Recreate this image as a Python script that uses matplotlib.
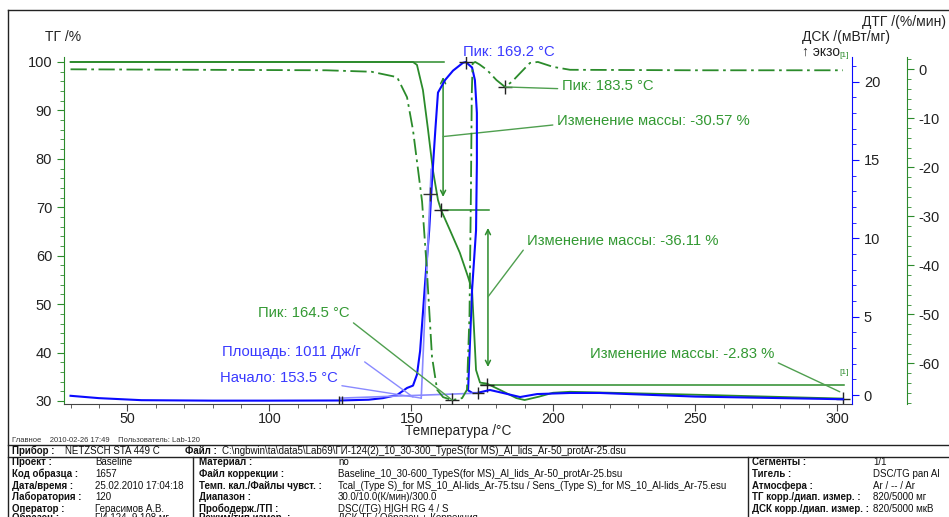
import matplotlib

matplotlib.use("Agg")

import matplotlib.pyplot as plt  # noqa: E402
from matplotlib.lines import Line2D  # noqa: E402
from matplotlib.ticker import MultipleLocator  # noqa: E402
import numpy as np  # noqa: E402

plt.rcParams["font.family"] = ["Liberation Sans", "DejaVu Sans"]
plt.rcParams["axes.unicode_minus"] = False

W, H = 949, 517
GREEN = "#2b8b2b"
GREEN_TXT = "#339933"
BLUE = "#0a0aff"
BLUE_TXT = "#3a3aff"
BLUE_LIGHT = "#8a8aff"

# --- ТГ, % ---
tg_temp = [30, 150.6, 152.0, 154.1, 155.9, 157.6, 159.4, 160.5, 163.6, 167.1, 170.0,
           171.4, 172.1, 172.8, 174.2, 176.6, 181.2, 187.0, 189.9, 195.0, 199.9,
           205.9, 250, 302]
tg_mass = [100, 100, 99.4, 94.2, 86.0, 77.7, 71.5, 69.4, 65.3, 60.6, 55.6,
           52.9, 44.7, 36.4, 33.8, 33.6, 32.3, 30.6, 30.2, 30.9, 31.7,
           31.9, 31.3, 30.5]

# --- ДТГ, %/мин ---
dtg_temp = [30, 120, 136, 145.0, 148.5, 150.6, 152.4, 153.8, 155.5, 156.0, 157.3,
            159.1, 161.2, 164.4, 167.9, 169.6, 170.5, 171.0, 171.3, 171.6, 172.5,
            174.0, 176.6, 180.0, 183.0, 185.5, 188.3, 191.8, 194.6, 199.9, 205.9,
            250, 302]
dtg_rate = [0.0, -0.2, -0.5, -1.6, -5.7, -12.4, -20.6, -27.0, -41.0, -46.0, -58.7,
            -65.4, -66.9, -67.5, -67.1, -65.4, -50.0, -25.0, -5.0, 1.2, 1.5,
            1.0, -0.1, -2.2, -3.6, -2.5, -0.8, 1.3, 1.5, 0.5, -0.1,
            -0.2, -0.2]

# --- ДСК, мВт/мг ---
dsc_temp = [30, 40, 55, 80, 100, 125, 135, 140, 145, 148.5, 150.6, 152.0, 153.1,
            154.2, 155.2, 156.3, 157.3, 158.5, 159.4, 161.9, 164.7, 168.2, 169.2,
            171.4, 172.4, 173.1, 173.1, 172.8, 171.4, 170.7, 170.0, 171.5, 173.1,
            177.7, 182.3, 188.3, 194.3, 205.9, 216.4, 250, 302]
dsc_heat = [-0.05, -0.2, -0.33, -0.36, -0.36, -0.35, -0.3, -0.2, 0.0, 0.45, 0.6,
            1.3, 2.8, 5.5, 8.0, 10.5, 13.7, 17.0, 19.3, 20.1, 20.7, 21.2, 21.25,
            20.9, 20.1, 18.0, 14.8, 10.5, 6.7, 3.5, 0.3, 0.13, 0.13,
            0.32, 0.13, -0.13, 0.06, 0.13, 0.13, -0.1, -0.27]

mass_steps = [-30.57, -36.11, -2.83]
step_temps = [160.5, 176.6, 302.0]
onset_temp = 153.5
area_limits = [125.0, 173.5]
area_base = [-0.2, 0.12]
inflection = (156.6, 12.8)

header = "Главное    2010-02-26 17:49    Пользователь: Lab-120"
device_row = [("Прибор :", True), ("NETZSCH STA 449 C", False), ("Файл :", True),
              ("C:\\ngbwin\\ta\\data5\\Lab69\\ГИ-124(2)_10_30-300_TypeS(for MS)_Al_lids_Ar-50_protAr-25.dsu", False)]
col1_keys = ["Проект :", "Код образца :", "Дата/время :", "Лаборатория :", "Оператор :", "Образец :"]
col1_vals = ["Baseline", "1657", "25.02.2010 17:04:18", "120", "Герасимов А.В.", "ГИ-124, 9.108 мг"]
col2_keys = ["Материал :", "Файл коррекции :", "Темп. кал./Файлы чувст. :", "Диапазон :",
             "Прободерж./ТП :", "Режим/тип измер. :"]
col2_vals = ["no", "Baseline_10_30-600_TypeS(for MS)_Al_lids_Ar-50_protAr-25.bsu",
             "Tcal_(Type S)_for MS_10_Al-lids_Ar-75.tsu / Sens_(Type S)_for MS_10_Al-lids_Ar-75.esu",
             "30.0/10.0(К/мин)/300.0", "DSC(/TG) HIGH RG 4 / S", "ДСК-ТГ / Образец + Коррекция"]
col3_keys = ["Сегменты :", "Тигель :", "Атмосфера :", "ТГ корр./диап. измер. :", "ДСК корр./диап. измер. :"]
col3_vals = ["1/1", "DSC/TG pan Al", "Ar / -- / Ar", "820/5000 мг", "820/5000 мкВ"]


def fx(x):
    return x / W


def fy(y):
    return 1 - y / H


fig = plt.figure(figsize=(W / 100, H / 100), dpi=100)
ax = fig.add_axes([fx(64), fy(404), fx(852) - fx(64), fy(57) - fy(404)])
ax2 = ax.twinx()
ax3 = ax.twinx()

ax.set_xlim(27.7, 305.2)
ax.set_ylim(29.38, 101.03)
ax2.set_ylim(-0.574, 21.57)
ax3.set_ylim(-68.3, 2.51)

for s in ["top", "right"]:
    ax.spines[s].set_visible(False)
ax.spines["left"].set_color(GREEN)
ax.spines["bottom"].set_color("#444")
for s in ["top", "left", "bottom"]:
    ax2.spines[s].set_visible(False)
    ax3.spines[s].set_visible(False)
ax2.spines["right"].set_color(BLUE)
ax3.spines["right"].set_color(GREEN)
ax3.spines["right"].set_position(("outward", 55 * 0.72))

ax.set_xticks(range(50, 301, 50))
ax.xaxis.set_minor_locator(MultipleLocator(10))
ax.set_yticks(range(30, 101, 10))
ax.yaxis.set_minor_locator(MultipleLocator(2))
ax2.set_yticks(range(0, 21, 5))
ax2.yaxis.set_minor_locator(MultipleLocator(1))
ax3.set_yticks(range(-60, 1, 10))
ax3.yaxis.set_minor_locator(MultipleLocator(2))

ax.tick_params(axis="x", which="both", colors="#444", labelcolor="#222", labelsize=10.3, pad=0.5)
ax.tick_params(axis="x", which="major", length=5)
ax.tick_params(axis="x", which="minor", length=3)
for a, c in [(ax, GREEN), (ax2, BLUE), (ax3, GREEN)]:
    a.tick_params(axis="y", which="both", color=c, labelcolor="#222", labelsize=10.5)
    a.tick_params(axis="y", which="major", length=5)
    a.tick_params(axis="y", which="minor", length=3)

# curves
ax.plot(tg_temp, tg_mass, color=GREEN, lw=1.3)
ax2.plot(dsc_temp, dsc_heat, color=BLUE, lw=1.5)
ax3.plot(dtg_temp, dtg_rate, color=GREEN, lw=1.3, ls=(0, (9, 2.5, 1.5, 2.5)))

# mass change steps
levels = [100.0]
for st in mass_steps:
    levels.append(levels[-1] + st)
ax.plot([30, 161.4], [levels[0]] * 2, color=GREEN, lw=1.1)
ax.plot([step_temps[0], 177.3], [levels[1]] * 2, color=GREEN, lw=1.1)
ax.plot([174.5, step_temps[2] + 0.5], [levels[2]] * 2, color=GREEN, lw=1.1)
ax.plot(step_temps, levels[1:], "+", color="#222", ms=10, mew=1)
arrow_kw = dict(arrowstyle="<->", color=GREEN, lw=1.1, shrinkA=0, shrinkB=0, mutation_scale=9)
ax.annotate("", xy=(161.2, levels[1] + 2.7), xytext=(161.2, levels[0] - 3.1), arrowprops=arrow_kw)
ax.annotate("", xy=(177.0, levels[2] + 3.7), xytext=(177.0, levels[1] - 3.7), arrowprops=arrow_kw)


def leader(a, text, xy, xytext, color, lcolor, relpos):
    a.annotate(text, xy=xy, xytext=xytext, color=color, fontsize=10.7, ha="left", va="center",
               arrowprops=dict(arrowstyle="-", color=lcolor, lw=1.0, shrinkA=1, shrinkB=0,
                               relpos=relpos))


leader(ax, "Изменение массы: %.2f %%" % mass_steps[0], (161.2, 84.6), (201.3, 87.8),
       GREEN_TXT, "#4f9f4f", (0, 0.25))
leader(ax, "Изменение массы: %.2f %%" % mass_steps[1], (177.0, 51.5), (190.7, 63.0),
       GREEN_TXT, "#4f9f4f", (0, 0.2))
leader(ax, "Изменение массы: %.2f %%" % mass_steps[2], (300.9, 31.9), (212.9, 39.7),
       GREEN_TXT, "#4f9f4f", (1, 0))

# DSC marks
dsc_t = np.array(dsc_temp)
dsc_h = np.array(dsc_heat)
ipk = int(np.argmax(dsc_h))
ax2.plot([dsc_t[ipk]], [dsc_h[ipk]], "+", color="#222", ms=10, mew=1)
ax2.text(168.2, 21.9, "Пик: %.1f °C" % dsc_t[ipk], color=BLUE_TXT, fontsize=10.7, va="center")
ax2.plot(area_limits, area_base, color=BLUE_LIGHT, lw=1.2)
ax2.plot([onset_temp, inflection[0] + 0.4], [area_base[0], inflection[1] + 1.6],
         color=BLUE_LIGHT, lw=1.2)
ax2.plot([inflection[0]], [inflection[1]], "+", color="#333", ms=10, mew=1)
ax2.plot([area_limits[1]], [area_base[1]], "+", color="#222", ms=9, mew=1)
ax2.plot([area_limits[0] - 0.5, area_limits[0] + 0.5], [-0.35, -0.35], "|", color="#222", ms=6, mew=1)
leader(ax2, "Площадь: 1011 Дж/г", (150.6, -0.13), (83.3, 2.74), BLUE_TXT, BLUE_LIGHT, (1, 0))
leader(ax2, "Начало: %.1f °C" % onset_temp, (onset_temp, area_base[0]), (82.6, 1.08),
       BLUE_TXT, BLUE_LIGHT, (1, 0))

# DTG marks
dtg_t = np.array(dtg_temp)
dtg_r = np.array(dtg_rate)
i1 = int(np.argmin(dtg_r))
late = dtg_t > 175
i2 = int(np.argmin(np.where(late, dtg_r, 0)))
ax3.plot([dtg_t[i1], dtg_t[i2]], [dtg_r[i1], dtg_r[i2]], "+", color="#222", ms=10, mew=1)
leader(ax3, "Пик: 164.5 °C", (dtg_t[i1], dtg_r[i1]), (96.0, -49.7), GREEN_TXT, "#4f9f4f", (1, 0))
leader(ax3, "Пик: 183.5 °C", (dtg_t[i2], dtg_r[i2]), (203.0, -3.4), GREEN_TXT, "#4f9f4f", (0, 0.3))
ax3.text(302.5, 2.0, "[1]", color=GREEN, fontsize=6, ha="center", va="bottom")
ax3.text(302.5, -62.5, "[1]", color=GREEN, fontsize=6, ha="center", va="bottom")

# axis titles
fig.text(fx(45), fy(37), "ТГ /%", fontsize=10, color="#222", va="center")
fig.text(fx(862), fy(22), "ДТГ /(%/мин)", fontsize=10, color="#222", va="center")
fig.text(fx(802), fy(37), "ДСК /(мВт/мг)", fontsize=10, color="#222", va="center")
fig.text(fx(802), fy(52), "↑ экзо", fontsize=10, color="#222", va="center")
fig.text(fx(458), fy(431), "Температура /°C", fontsize=9.8, color="#222", ha="center", va="center")


# frame and info table
def hline(y, x0=8, x1=W):
    fig.add_artist(Line2D([fx(x0), fx(x1)], [fy(y), fy(y)], transform=fig.transFigure,
                          color="#222", lw=1))


def vline(x, y0, y1):
    fig.add_artist(Line2D([fx(x), fx(x)], [fy(y0), fy(y1)], transform=fig.transFigure,
                          color="#222", lw=1))


hline(10)
vline(8, 10, H)
hline(445)
hline(457)
vline(193, 457, H)
vline(748, 457, H)

fig.text(fx(12), fy(440), header, fontsize=5.5, color="#333", va="center")
for (txt, bold), x in zip(device_row, [12, 65, 185, 222]):
    fig.text(fx(x), fy(451), txt, fontsize=7, color="#111", va="center",
             fontweight="bold" if bold else "normal")

row_y = [462, 474, 486, 497, 509, 518]
for keys, vals, xk, xv in [(col1_keys, col1_vals, 12, 95), (col2_keys, col2_vals, 199, 338),
                           (col3_keys, col3_vals, 752, 873)]:
    for k, v, y in zip(keys, vals, row_y):
        fig.text(fx(xk), fy(y), k, fontsize=7, color="#111", va="center", fontweight="bold")
        fig.text(fx(xv), fy(y), v, fontsize=7, color="#111", va="center")

fig.savefig("out.png", dpi=100)
